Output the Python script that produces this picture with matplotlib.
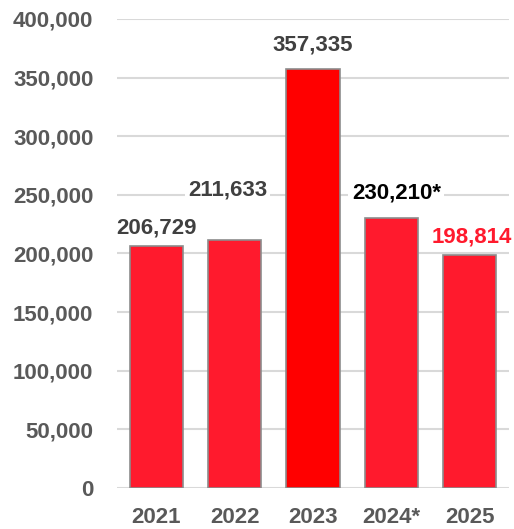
import matplotlib.pyplot as plt
from matplotlib.ticker import FuncFormatter

# Data
years = ['2021', '2022', '2023', '2024*', '2025']
values = [206729, 211633, 357335, 230210, 198814]
value_labels = ['206,729', '211,633', '357,335', '230,210*', '198,814']
bar_colors = ['#FF1A2D', '#FF1A2D', '#FF0000', '#FF1A2D', '#FF1A2D']
label_colors = ['#404040', '#404040', '#404040', '#000000', '#FF1A2D']
yticks = [0, 50000, 100000, 150000, 200000, 250000, 300000, 350000, 400000]

plt.rcParams['font.family'] = ['Liberation Sans', 'DejaVu Sans']

fig = plt.figure(figsize=(5.14, 5.29), dpi=100)
ax = fig.add_axes([0.2276, 0.0775, 0.7624, 0.8866])

x = range(len(years))
bars = ax.bar(x, values, width=0.68, color=bar_colors,
              edgecolor='#8C8C8C', linewidth=1.2, zorder=3)

# label offsets in pixels (x, y) from bar top
offsets = [(0, 18), (-7, 50), (0, 24), (5, 25), (2, 18)]
for bar, lab, col, (dx, dy) in zip(bars, value_labels, label_colors, offsets):
    ax.annotate(lab, xy=(bar.get_x() + bar.get_width() / 2, bar.get_height()),
                xytext=(dx, dy), textcoords='offset pixels',
                ha='center', va='center', fontsize=16, fontweight='bold',
                color=col, zorder=4,
                bbox=dict(boxstyle='square,pad=0.15', fc='white', ec='none'))

ax.set_xlim(-0.5, 4.5)
ax.set_ylim(0, 400000)
ax.set_yticks(yticks)
ax.yaxis.set_major_formatter(FuncFormatter(lambda v, p: f'{int(v):,}'))
ax.set_xticks(list(x))
ax.set_xticklabels(years)

ax.grid(axis='y', color='#D9D9D9', linewidth=1.5, zorder=0)
ax.set_axisbelow(True)
for s in ax.spines.values():
    s.set_visible(False)
ax.tick_params(axis='both', length=0, labelsize=16, labelcolor='#595959')
ax.tick_params(axis='y', pad=17)
ax.tick_params(axis='x', pad=14)
for t in ax.get_xticklabels() + ax.get_yticklabels():
    t.set_fontweight('bold')

fig.savefig('out.png', dpi=100)
